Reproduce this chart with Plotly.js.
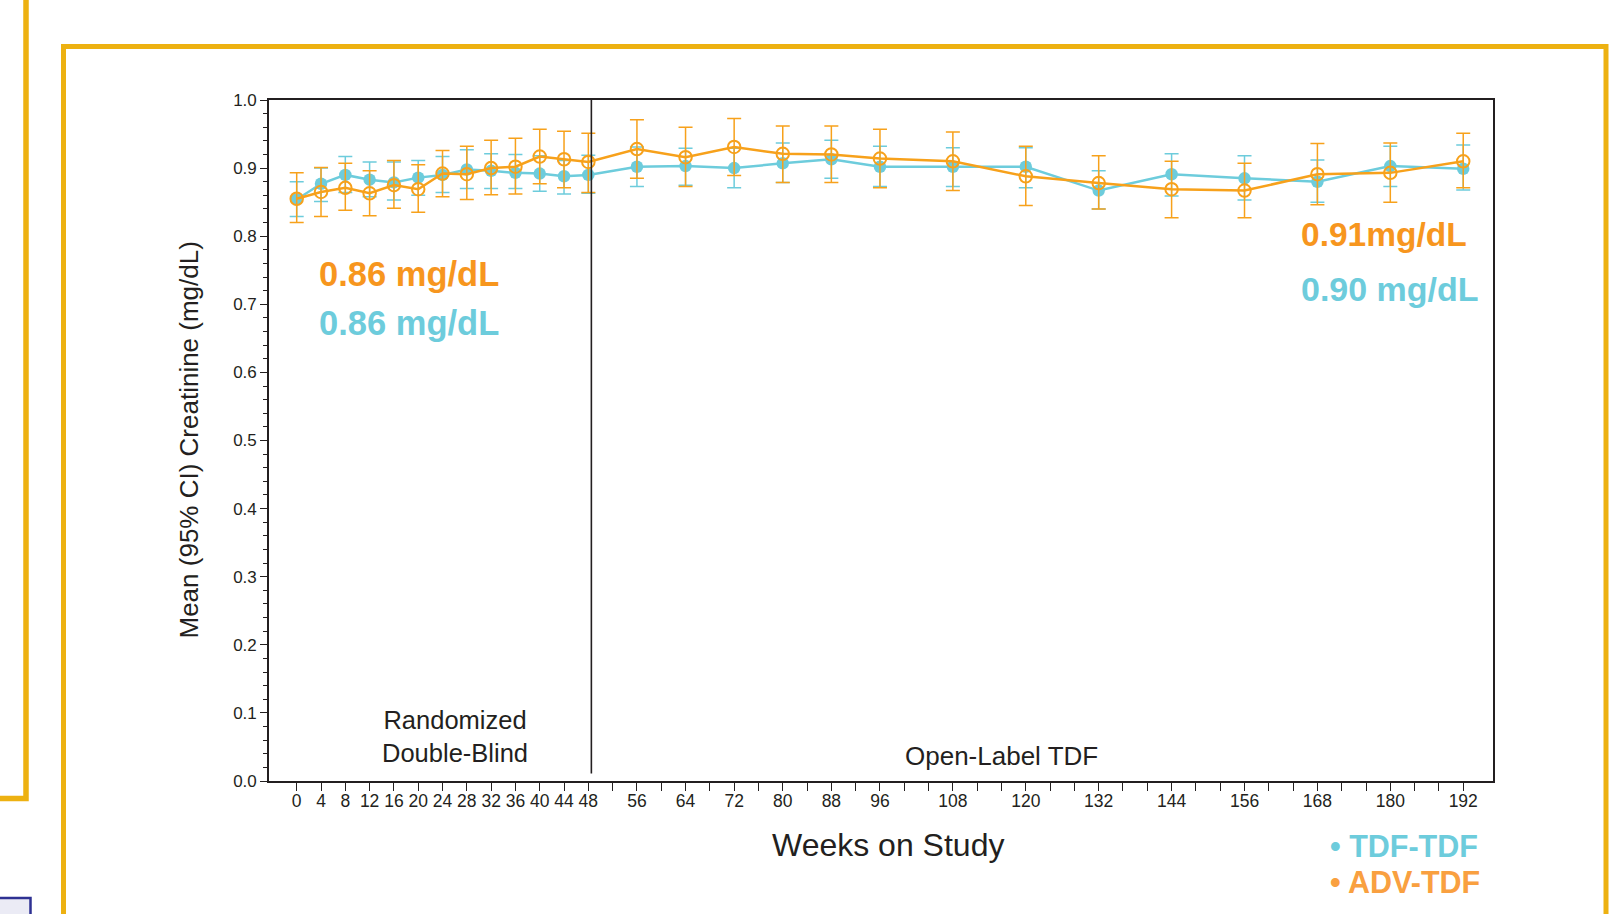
<!DOCTYPE html>
<html>
<head>
<meta charset="utf-8">
<script src="https://cdn.plot.ly/plotly-3.0.1.min.js"></script>
<style>
  html, body { margin: 0; padding: 0; background: #ffffff; }
  #chart { width: 1614px; height: 914px; }
</style>
</head>
<body>
<div id="chart"></div>
<script>
// ---- Data ----
const weeks = [0, 4, 8, 12, 16, 20, 24, 28, 32, 36, 40, 44, 48, 56, 64, 72, 80, 88, 96, 108, 120, 132, 144, 156, 168, 180, 192];

const tdfMean  = [0.854, 0.877, 0.890, 0.883, 0.879, 0.886, 0.890, 0.898, 0.896, 0.893, 0.892, 0.888, 0.890, 0.902, 0.903, 0.900, 0.907, 0.913, 0.902, 0.902, 0.902, 0.867, 0.891, 0.885, 0.880, 0.903, 0.899];
const tdfUpper = [0.880, 0.900, 0.917, 0.909, 0.909, 0.911, 0.917, 0.927, 0.921, 0.920, 0.918, 0.911, 0.919, 0.931, 0.929, 0.929, 0.937, 0.941, 0.932, 0.930, 0.930, 0.896, 0.921, 0.918, 0.912, 0.932, 0.934];
const tdfLower = [0.829, 0.851, 0.864, 0.858, 0.853, 0.860, 0.864, 0.870, 0.870, 0.870, 0.866, 0.862, 0.863, 0.873, 0.875, 0.871, 0.879, 0.885, 0.873, 0.873, 0.871, 0.840, 0.859, 0.853, 0.850, 0.873, 0.868];

const advMean  = [0.855, 0.865, 0.871, 0.863, 0.875, 0.869, 0.892, 0.891, 0.900, 0.902, 0.917, 0.913, 0.909, 0.928, 0.916, 0.931, 0.921, 0.920, 0.914, 0.910, 0.888, 0.878, 0.869, 0.867, 0.891, 0.893, 0.910];
const advUpper = [0.893, 0.901, 0.907, 0.896, 0.911, 0.905, 0.926, 0.932, 0.941, 0.944, 0.957, 0.954, 0.951, 0.971, 0.960, 0.973, 0.962, 0.962, 0.957, 0.953, 0.932, 0.918, 0.910, 0.907, 0.936, 0.937, 0.951];
const advLower = [0.820, 0.829, 0.838, 0.830, 0.841, 0.835, 0.858, 0.854, 0.861, 0.862, 0.877, 0.871, 0.864, 0.885, 0.873, 0.889, 0.879, 0.879, 0.871, 0.867, 0.845, 0.840, 0.827, 0.827, 0.846, 0.850, 0.871];

const seriesNames = ['TDF-TDF', 'ADV-TDF'];
const baselineLabels = ['0.86 mg/dL', '0.86 mg/dL'];   // ADV, TDF
const endLabels = ['0.91mg/dL', '0.90 mg/dL'];         // ADV, TDF
const phaseLabels = ['Randomized<br>Double-Blind', 'Open-Label TDF'];
const xTitle = 'Weeks on Study';
const yTitle = 'Mean (95% CI) Creatinine (mg/dL)';

// tick positions every 4 weeks; labels only at visit weeks
const tickVals = [];
for (let w = 0; w <= 192; w += 4) tickVals.push(w);
const tickText = tickVals.map(v => weeks.includes(v) ? String(v) : '');

// ---- Styling ----
const CYAN = '#6DCCDC';
const ORANGE = '#F7A11B';
const ORANGE_TXT = '#F7961E';
const INK = '#231F20';
const GOLD = '#EDB111';
const FONT = 'Liberation Sans, Arial, Helvetica, sans-serif';

const W = 1614, H = 914;
const M = { l: 269, r: 121, t: 100, b: 133 };
const PW = W - M.l - M.r, PH = H - M.t - M.b;
const px = x => (x - M.l) / PW;          // pixel -> paper x
const py = y => (H - M.b - y) / PH;      // pixel -> paper y

const errUp = (m, u) => u.map((v, i) => +(v - m[i]).toFixed(4));
const errDn = (m, l) => l.map((v, i) => +(m[i] - v).toFixed(4));

const traces = [
  {
    type: 'scatter', mode: 'lines+markers', name: seriesNames[0],
    x: weeks, y: tdfMean,
    line: { color: CYAN, width: 2.5 },
    marker: { symbol: 'circle', size: 12.5, color: CYAN },
    error_y: { type: 'data', symmetric: false, array: errUp(tdfMean, tdfUpper), arrayminus: errDn(tdfMean, tdfLower),
               color: CYAN, thickness: 1.5, width: 7 }
  },
  {
    type: 'scatter', mode: 'lines+markers', name: seriesNames[1],
    x: weeks, y: advMean,
    line: { color: ORANGE, width: 2.5 },
    marker: { symbol: 'circle-open', size: 12.5, color: ORANGE, line: { width: 2, color: ORANGE } },
    error_y: { type: 'data', symmetric: false, array: errUp(advMean, advUpper), arrayminus: errDn(advMean, advLower),
               color: ORANGE, thickness: 1.5, width: 7 }
  }
];

const annotations = [
  // y-axis title
  { xref: 'paper', yref: 'paper', x: px(188), y: 0.5, text: yTitle, textangle: -90, showarrow: false,
    xanchor: 'center', yanchor: 'middle', font: { family: FONT, size: 26, color: INK } },
  // x-axis title
  { xref: 'paper', yref: 'paper', x: px(888), y: py(845), text: xTitle, showarrow: false,
    xanchor: 'center', yanchor: 'middle', font: { family: FONT, size: 32, color: INK } },
  // phase labels
  { xref: 'x', yref: 'y', x: 26, y: 0.066, text: phaseLabels[0], showarrow: false,
    xanchor: 'center', yanchor: 'middle', font: { family: FONT, size: 25.5, color: INK } },
  { xref: 'x', yref: 'y', x: 116, y: 0.036, text: phaseLabels[1], showarrow: false,
    xanchor: 'center', yanchor: 'middle', font: { family: FONT, size: 26, color: INK } },
  // baseline / end values
  { xref: 'x', yref: 'y', x: 3.3, y: 0.7445, text: '<b>' + baselineLabels[0] + '</b>', showarrow: false,
    xanchor: 'left', yanchor: 'middle', font: { family: FONT, size: 34.5, color: ORANGE_TXT } },
  { xref: 'x', yref: 'y', x: 3.3, y: 0.673, text: '<b>' + baselineLabels[1] + '</b>', showarrow: false,
    xanchor: 'left', yanchor: 'middle', font: { family: FONT, size: 34.5, color: CYAN } },
  { xref: 'x', yref: 'y', x: 165.0, y: 0.803, text: '<b>' + endLabels[0] + '</b>', showarrow: false,
    xanchor: 'left', yanchor: 'middle', font: { family: FONT, size: 33.5, color: ORANGE_TXT } },
  { xref: 'x', yref: 'y', x: 165.0, y: 0.722, text: '<b>' + endLabels[1] + '</b>', showarrow: false,
    xanchor: 'left', yanchor: 'middle', font: { family: FONT, size: 34, color: CYAN } },
  // legend
  { xref: 'paper', yref: 'paper', x: px(1328), y: py(845.5), text: '<b>• ' + seriesNames[0] + '</b>', showarrow: false,
    xanchor: 'left', yanchor: 'middle', font: { family: FONT, size: 30.5, color: CYAN } },
  { xref: 'paper', yref: 'paper', x: px(1328), y: py(882), text: '<b>• ' + seriesNames[1] + '</b>', showarrow: false,
    xanchor: 'left', yanchor: 'middle', font: { family: FONT, size: 30.5, color: '#F9A040' } }
];

const shapes = [
  // phase divider
  { type: 'line', xref: 'x', yref: 'y', x0: 48.5, x1: 48.5, y0: 0.011, y1: 1, line: { color: INK, width: 1.6 } },
  // decorative slide frames
  { type: 'path', xref: 'paper', yref: 'paper', layer: 'below',
    path: `M ${px(-5)},${py(798.5)} L ${px(26)},${py(798.5)} L ${px(26)},${py(-5)}`,
    line: { color: GOLD, width: 5.5 } },
  { type: 'path', xref: 'paper', yref: 'paper', layer: 'below',
    path: `M ${px(63.5)},${py(925)} L ${px(63.5)},${py(46.5)} L ${px(1606)},${py(46.5)} L ${px(1606)},${py(925)}`,
    line: { color: GOLD, width: 5 } },
  { type: 'rect', xref: 'paper', yref: 'paper', layer: 'below',
    x0: px(-5), x1: px(30.5), y0: py(898), y1: py(925),
    fillcolor: '#EBEBF5', line: { color: '#2E3192', width: 2.5 } }
];

const layout = {
  width: W, height: H,
  margin: M,
  paper_bgcolor: '#ffffff', plot_bgcolor: '#ffffff',
  showlegend: false,
  font: { family: FONT, color: INK },
  xaxis: {
    range: [-4.56, 196.9], tickmode: 'array', tickvals: tickVals, ticktext: tickText,
    showline: true, linecolor: INK, linewidth: 1.6, mirror: true,
    ticks: 'outside', ticklen: 8, tickwidth: 1.4, tickcolor: INK,
    ticklabelstandoff: -5,
    showgrid: false, zeroline: false,
    tickfont: { family: FONT, size: 17.5, color: INK }
  },
  yaxis: {
    range: [0, 1], tick0: 0, dtick: 0.1, tickformat: '.1f',
    showline: true, linecolor: INK, linewidth: 1.6, mirror: true,
    ticks: 'outside', ticklen: 7, tickwidth: 1.4, tickcolor: INK,
    minor: { dtick: 0.02, ticks: 'outside', ticklen: 4, tickwidth: 1.2, tickcolor: INK, showgrid: false },
    showgrid: false, zeroline: false,
    tickfont: { family: FONT, size: 17, color: INK }
  },
  annotations: annotations,
  shapes: shapes
};

Plotly.newPlot('chart', traces, layout, { displayModeBar: false, responsive: false });
</script>
</body>
</html>
